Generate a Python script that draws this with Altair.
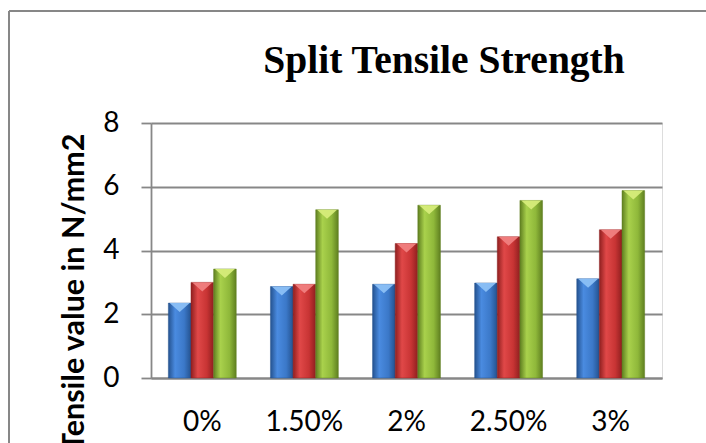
import altair as alt
import pandas as pd

# Split tensile strength (N/mm2) by fibre content, three specimens per mix
categories = ["0%", "1.50%", "2%", "2.50%", "3%"]
series_names = ["Series1", "Series2", "Series3"]
series1 = [2.35, 2.87, 2.94, 2.98, 3.11]
series2 = [3.00, 2.94, 4.22, 4.43, 4.65]
series3 = [3.42, 5.28, 5.42, 5.57, 5.88]

rows = []
for name, vals in zip(series_names, [series1, series2, series3]):
    for cat, v in zip(categories, vals):
        rows.append({"mix": cat, "series": name, "value": v})
df = pd.DataFrame(rows)

CW, CH = 706, 443
W, H = 511, 255
LEFT, TOP = 151, 123
LINE = "#878787"

x_enc = alt.X(
    "mix:N",
    sort=categories,
    scale=alt.Scale(paddingInner=0.335, paddingOuter=0.17),
    axis=alt.Axis(
        title=None, labelAngle=0, ticks=False, domain=True,
        domainColor=LINE, domainWidth=1.8,
        labelFont="Lato", labelFontSize=28, labelColor="#000000",
        labelBaseline="alphabetic", labelPadding=52,
    ),
)
xoff = alt.XOffset("series:N", sort=series_names, scale=alt.Scale(paddingInner=0, paddingOuter=0))
y_enc = alt.Y(
    "value:Q",
    scale=alt.Scale(domain=[0, 8]),
    axis=alt.Axis(
        title="Tensile value in N/mm2", values=[0, 2, 4, 6, 8], format="d",
        grid=True, gridColor=LINE, gridWidth=1.8,
        domain=True, domainColor=LINE, domainWidth=1.8,
        ticks=True, tickSize=10, tickColor=LINE, tickWidth=1.8,
        labelFont="Lato", labelFontSize=28, labelColor="#000000", labelPadding=22,
        titleFont="Lato", titleFontSize=30.5, titleFontWeight="bold", titleColor="#000000",
        titleAngle=-90, titleAlign="right", titleBaseline="alphabetic",
        titleX=-68, titleY=10,
    ),
)

palettes = {
    "Series1": ("#24528f", "#4a8be0", "#3b78c8", "#8cc0f5"),
    "Series2": ("#8f1f1f", "#e04848", "#c83434", "#f08080"),
    "Series3": ("#5f7f20", "#a9d14c", "#8fb83a", "#d6ec7a"),
}

base = alt.Chart(df)
layers = []
for name in series_names:
    dark, light, mid, tip = palettes[name]
    grad = alt.Gradient(
        gradient="linear", x1=0, x2=1, y1=0, y2=0,
        stops=[
            alt.GradientStop(color=dark, offset=0),
            alt.GradientStop(color=light, offset=0.3),
            alt.GradientStop(color=mid, offset=0.7),
            alt.GradientStop(color=dark, offset=1),
        ],
    )
    bars = base.transform_filter(alt.datum.series == name).mark_bar(
        fill=grad, stroke=dark, strokeWidth=0.8, strokeOpacity=0.6
    ).encode(x=x_enc, xOffset=xoff, y=y_enc)
    tips = base.transform_filter(alt.datum.series == name).mark_point(
        shape="M-1,0L1,0L0,0.9Z", filled=True, fill=tip, opacity=0.95,
        size=400, strokeWidth=0,
    ).encode(x=x_enc, xOffset=xoff, y=y_enc)
    layers += [bars, tips]

# Chart-area frame: left and top edges
frame_left = alt.Chart(pd.DataFrame({"k": [0]})).mark_rule(
    color=LINE, strokeWidth=2
).encode(x=alt.value(9 - LEFT), y=alt.value(11 - TOP), y2=alt.value(CH - TOP))
frame_top = alt.Chart(pd.DataFrame({"k": [0]})).mark_rule(
    color=LINE, strokeWidth=2
).encode(x=alt.value(9 - LEFT), x2=alt.value(CW - LEFT), y=alt.value(11 - TOP))

# Chart title drawn as a text mark placed in the header area
title = alt.Chart(pd.DataFrame({"t": ["Split Tensile Strength"]})).mark_text(
    font="Liberation Serif", fontSize=39.5, fontWeight="bold", color="#000000",
    align="center", baseline="alphabetic",
).encode(text="t:N", x=alt.value(444 - LEFT), y=alt.value(73 - TOP))

chart = alt.layer(*layers, frame_left, frame_top, title).properties(
    width=W,
    height=H,
    autosize=alt.AutoSizeParams(type="none"),
    padding={"left": LEFT, "top": TOP, "right": CW - LEFT - W, "bottom": CH - TOP - H},
).configure_view(stroke=None).configure(background="#ffffff")

chart.save("out.html", embed_options={"renderer": "svg", "actions": False})
